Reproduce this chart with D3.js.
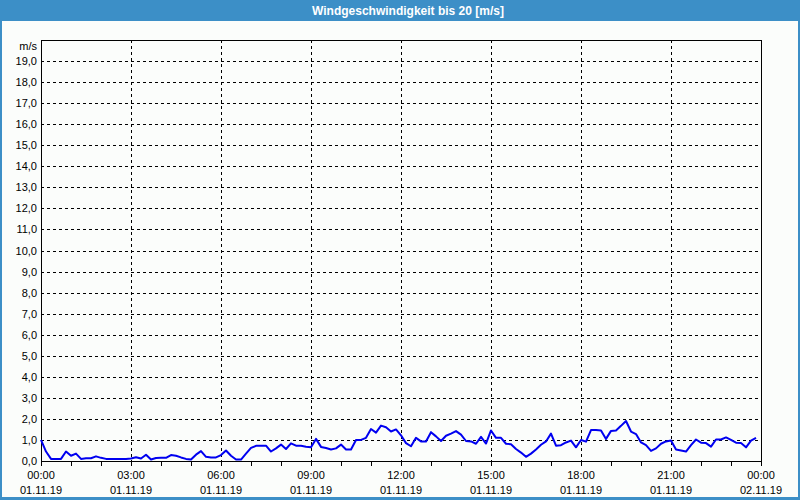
<!DOCTYPE html>
<html lang="de">
<head>
<meta charset="UTF-8">
<title>Windgeschwindigkeit bis 20 [m/s]</title>
<script src="https://d3js.org/d3.v7.min.js"></script>
<style>
    body {
        margin: 0;
        padding: 0;
        background: #fbfdfb;
        overflow: hidden;
    }
    .tick-label {
        font-family: "Liberation Sans", Arial, sans-serif;
        font-size: 11px;
        fill: #000;
    }
    .grid {
        stroke: #000;
        stroke-width: 1;
        stroke-dasharray: 3,3;
        shape-rendering: crispEdges;
    }
    .wind-line {
        fill: none;
        stroke: #0000f0;
        stroke-width: 2;
        stroke-linejoin: round;
    }
</style>
</head>
<body>
<div id="chart"></div>
<script>
// Messwerte Windgeschwindigkeit [m/s], alle 10 Minuten ab 01.11.19 00:00
const startTime = new Date(2019, 10, 1, 0, 0);
const endTime = new Date(2019, 10, 2, 0, 0);
const stepMinutes = 10;
const speeds = [
    1.0, 0.45, 0.1, 0.1, 0.1, 0.45, 0.25, 0.35, 0.1, 0.13,
    0.13, 0.22, 0.15, 0.1, 0.1, 0.1, 0.1, 0.1, 0.12, 0.18,
    0.12, 0.3, 0.07, 0.14, 0.15, 0.15, 0.28, 0.25, 0.17, 0.1,
    0.07, 0.3, 0.47, 0.2, 0.17, 0.17, 0.28, 0.5, 0.25, 0.07,
    0.07, 0.35, 0.62, 0.72, 0.73, 0.73, 0.45, 0.6, 0.78, 0.57,
    0.84, 0.73, 0.72, 0.68, 0.65, 1.05, 0.67, 0.62, 0.55, 0.6,
    0.78, 0.55, 0.55, 1.0, 1.0, 1.1, 1.52, 1.35, 1.68, 1.6,
    1.4, 1.5, 1.22, 0.85, 0.7, 1.1, 0.93, 0.93, 1.37, 1.17,
    0.95, 1.2, 1.3, 1.42, 1.25, 0.95, 0.93, 0.82, 1.15, 0.83,
    1.45, 1.1, 1.1, 0.82, 0.8, 0.57, 0.4, 0.2, 0.35, 0.55,
    0.77, 0.93, 1.3, 0.73, 0.75, 0.88, 0.97, 0.65, 1.0, 0.92,
    1.47, 1.47, 1.45, 1.05, 1.43, 1.45, 1.67, 1.9, 1.4, 1.28,
    0.88, 0.75, 0.48, 0.6, 0.82, 0.93, 0.97, 0.55, 0.5, 0.45,
    0.75, 1.02, 0.87, 0.85, 0.68, 1.02, 1.02, 1.12, 1.0, 0.87,
    0.85, 0.65, 0.97, 1.1
];
const timeLabels = ["00:00", "03:00", "06:00", "09:00", "12:00", "15:00", "18:00", "21:00", "00:00"];
const dateLabels = ["01.11.19", "01.11.19", "01.11.19", "01.11.19", "01.11.19", "01.11.19", "01.11.19", "01.11.19", "02.11.19"];
const yTicks = d3.range(0, 20, 1);
const title = "Windgeschwindigkeit bis 20 [m/s]";
const unit = "m/s";

const W = 800, H = 500;
const frame = "#3c8fc7";
const plot = {left: 41, right: 761, top: 40, bottom: 461};

const data = speeds.map((v, i) => ({
    time: d3.timeMinute.offset(startTime, i * stepMinutes),
    value: v
}));

const svg = d3.select("#chart").append("svg")
    .attr("width", W)
    .attr("height", H)
    .style("display", "block");

// Rahmen + Titelleiste
svg.append("rect").attr("x", 0).attr("y", 0).attr("width", W).attr("height", H).attr("fill", frame);
svg.append("rect").attr("x", 2).attr("y", 21).attr("width", W - 4).attr("height", H - 21 - 3).attr("fill", "#fbfdfb");
svg.append("text")
    .attr("x", 408).attr("y", 15)
    .attr("text-anchor", "middle")
    .style("font-family", "'Liberation Sans', Arial, sans-serif")
    .style("font-size", "12px")
    .style("font-weight", "bold")
    .attr("fill", "#fff")
    .text(title);

const x = d3.scaleTime().domain([startTime, endTime]).range([plot.left, plot.right]);
const y = d3.scaleLinear().domain([0, 20]).range([plot.bottom, plot.top]);

const majorTicks = d3.timeHour.every(3).range(startTime, d3.timeMinute.offset(endTime, 1));
const minorTicks = d3.timeMinute.every(90).range(startTime, d3.timeMinute.offset(endTime, 1));

// Gitter
svg.append("g").selectAll("line")
    .data(yTicks.filter(d => d > 0))
    .join("line")
    .attr("class", "grid")
    .attr("x1", plot.left).attr("x2", plot.right)
    .attr("y1", d => Math.round(y(d)) + 0.5).attr("y2", d => Math.round(y(d)) + 0.5);

svg.append("g").selectAll("line")
    .data(majorTicks.slice(1, -1))
    .join("line")
    .attr("class", "grid")
    .attr("y1", plot.top).attr("y2", plot.bottom)
    .attr("x1", d => Math.round(x(d)) + 0.5).attr("x2", d => Math.round(x(d)) + 0.5);

// Unterteilung der X-Achse
svg.append("g").selectAll("line")
    .data(minorTicks)
    .join("line")
    .attr("x1", d => Math.round(x(d)) + 0.5).attr("x2", d => Math.round(x(d)) + 0.5)
    .attr("y1", plot.bottom).attr("y2", plot.bottom + 5)
    .attr("stroke", "#000")
    .attr("shape-rendering", "crispEdges");

// Plotrahmen
svg.append("rect")
    .attr("x", plot.left + 0.5).attr("y", plot.top + 0.5)
    .attr("width", plot.right - plot.left).attr("height", plot.bottom - plot.top)
    .attr("fill", "none").attr("stroke", "#000")
    .attr("shape-rendering", "crispEdges");

// Y-Beschriftung
svg.append("g").selectAll("text")
    .data(yTicks)
    .join("text")
    .attr("class", "tick-label")
    .attr("x", plot.left - 4)
    .attr("y", d => y(d) + 4)
    .attr("text-anchor", "end")
    .text(d => d3.format(".1f")(d).replace(".", ","));

svg.append("text")
    .attr("class", "tick-label")
    .attr("x", plot.left - 4).attr("y", 50)
    .attr("text-anchor", "end")
    .text(unit);

// X-Beschriftung
const xl = svg.append("g").selectAll("g")
    .data(majorTicks)
    .join("g")
    .attr("transform", d => `translate(${x(d)},0)`);
xl.append("text")
    .attr("class", "tick-label")
    .attr("y", 479)
    .attr("text-anchor", "middle")
    .text((d, i) => timeLabels[i]);
xl.append("text")
    .attr("class", "tick-label")
    .attr("y", 494)
    .attr("text-anchor", "middle")
    .text((d, i) => dateLabels[i]);

// Linie
const line = d3.line()
    .x(d => x(d.time))
    .y(d => y(d.value));

svg.append("path")
    .datum(data)
    .attr("class", "wind-line")
    .attr("d", line);
</script>
</body>
</html>
